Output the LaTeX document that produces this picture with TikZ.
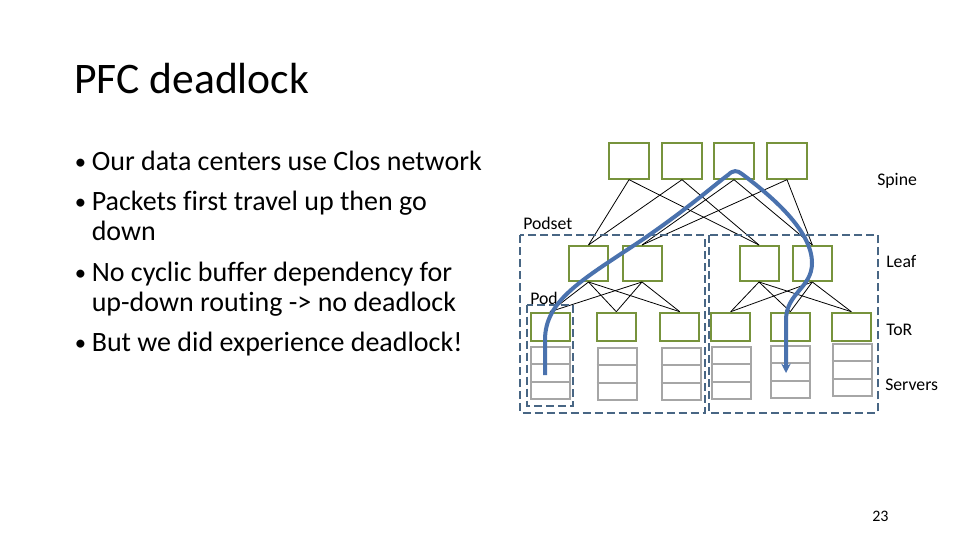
\documentclass[tikz,border=0pt]{standalone}
\usepackage{fontspec}
\setmainfont{Carlito}[Ligatures={NoCommon}]
\usetikzlibrary{calc,arrows.meta}
\definecolor{boxgreen}{RGB}{119,147,60}
\definecolor{srvgray}{RGB}{166,166,166}
\definecolor{dashblue}{RGB}{72,102,132}
\definecolor{pathblue}{RGB}{74,114,174}
\begin{document}
\begin{tikzpicture}[x=0.75pt,y=-0.75pt,
  swbox/.style={draw=boxgreen,line width=1.5pt,minimum width=30pt,minimum height=26.5pt,inner sep=0pt},
  leafbox/.style={swbox,minimum width=29.25pt,minimum height=26.25pt},
  torbox/.style={swbox,minimum width=29.25pt,minimum height=21pt},
  srvbox/.style={draw=srvgray,line width=1.5pt,minimum width=29.25pt,minimum height=39pt,inner sep=0pt},
  srvline/.style={draw=srvgray,line width=1.5pt},
  link/.style={black,line width=0.6pt},
  grp/.style={draw=dashblue,line width=1.5pt,dash pattern=on 6pt off 3pt},
  lbl/.style={anchor=base west,inner sep=0pt,font=\fontsize{13.3}{15}\selectfont},
  btext/.style={anchor=base west,inner sep=0pt,font=\fontsize{21}{25}\selectfont},
  bdot/.style={anchor=base west,inner sep=0pt,font=\fontsize{17}{20}\selectfont},
  flow/.style={draw=pathblue,line width=3pt,-{Stealth[length=7pt,width=7pt]}}]
\useasboundingbox (0,0) rectangle (960,540);
\fill[white] (0,0) rectangle (960,540);

% title and bullets
\node[anchor=base west,inner sep=0pt,font=\fontsize{32.7}{38}\selectfont] (title) at (74,93) {PFC deadlock};
\node[bdot] (b1) at (74.5,169) {•};
\node[btext] (l1) at (91.5,170) {Our data centers use Clos network};
\node[bdot] (b2) at (74.5,209) {•};
\node[btext] (l2) at (91.5,210) {Packets first travel up then go};
\node[btext] (l2b) at (91.5,240) {down};
\node[bdot] (b3) at (74.5,280) {•};
\node[btext] (l3) at (91.5,281) {No cyclic buffer dependency for};
\node[btext] (l3b) at (91.5,311) {up-down routing -> no deadlock};
\node[bdot] (b4) at (74.5,350) {•};
\node[btext] (l4) at (91.5,351) {But we did experience deadlock!};

% switches
\node[swbox] (sp1) at (629,161) {};
\node[swbox] (sp2) at (682,161) {};
\node[swbox] (sp3) at (734,161) {};
\node[swbox] (sp4) at (787,161) {};
\node[leafbox] (lf1) at (588.5,263.5) {};
\node[leafbox] (lf2) at (642,263.5) {};
\node[leafbox] (lf3) at (759,263.5) {};
\node[leafbox] (lf4) at (812.3,263.5) {};
\node[torbox] (t1) at (550,326.7) {};
\node[torbox] (t2) at (616.3,326.7) {};
\node[torbox] (t3) at (679.8,326.7) {};
\node[torbox] (t4) at (730.7,326.7) {};
\node[torbox] (t5) at (790.3,326.7) {};
\node[torbox] (t6) at (851.3,326.7) {};

% servers
\node[srvbox] (s1) at (550,373) {};
\node[srvbox] (s2) at (617,373.5) {};
\node[srvbox] (s3) at (681,373.5) {};
\node[srvbox] (s4) at (731,373) {};
\node[srvbox] (s5) at (790.5,371.5) {};
\node[srvbox] (s6) at (852,370) {};
\foreach \s in {s1,s2,s3,s4,s5,s6}{
  \foreach \f in {0.3333,0.6667}{
    \draw[srvline] ($(\s.north west)!\f!(\s.south west)$) -- ($(\s.north east)!\f!(\s.south east)$);
  }
}

% links
\foreach \a/\b in {sp1/lf1,sp2/lf1,sp3/lf2,sp4/lf2,sp1/lf3,sp2/lf3,sp3/lf4,sp4/lf4}{
  \draw[link] (\a.south) -- (\b.north);
}
\foreach \a/\b in {lf1/t1,lf1/t2,lf1/t3,lf2/t1,lf2/t2,lf2/t3,lf3/t4,lf3/t5,lf3/t6,lf4/t4,lf4/t5,lf4/t6}{
  \draw[link] (\a.south) -- (\b.north);
}

% groups
\draw[grp] (520,235.3) rectangle (704.7,412.7);
\draw[grp] (708.7,235.3) rectangle (878,412.7);
\draw[grp] (527.3,304.7) rectangle (572.7,406);

% labels
\node[lbl] (lspine) at (877,185) {Spine};
\node[lbl] (lleaf) at (886,267) {Leaf};
\node[lbl] (ltor) at (886,335) {ToR};
\node[lbl] (lsrv) at (885,390) {Servers};
\node[lbl] (lpodset) at (523,229) {Podset};
\node[lbl] (lpod) at (530,304) {Pod};
\node[anchor=base west,inner sep=0pt,font=\fontsize{12}{14}\selectfont] (pnum) at (872,521) {23};

% packet path
\coordinate (pstart) at (545,375);
\coordinate (pend) at (786,373);
\draw[flow] (pstart) -- (545,340) .. controls (545,300) and (582,280) .. (642,240)
  .. controls (690,207) and (718,182) .. (728,175)
  .. controls (733,170) and (737,170) .. (742,174)
  .. controls (770,195) and (812,230) .. (812,263)
  .. controls (812,288) and (786,293) .. (786,320) -- (pend);
\end{tikzpicture}
\end{document}
